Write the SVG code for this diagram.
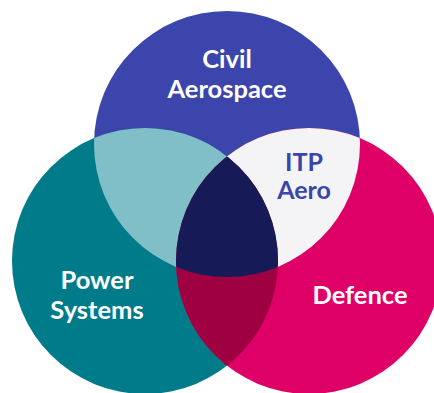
<svg xmlns="http://www.w3.org/2000/svg" width="434" height="393" viewBox="0 0 434 393">
  <style>
    .label { font-family: Lato, "Open Sans", "Liberation Sans", sans-serif; font-weight: 700; font-size: 25.5px; text-anchor: middle; }
    .light { fill: #ffffff; }
    .dark { fill: #3b45ab; font-size: 25px; }
  </style>
  <defs>
    <clipPath id="clip-civil"><circle cx="227" cy="144" r="133"/></clipPath>
    <clipPath id="clip-power"><circle cx="145" cy="261" r="133"/></clipPath>
  </defs>
  <rect width="434" height="393" fill="#ffffff"/>

  <!-- base circles -->
  <g id="civil-aerospace">
    <circle cx="227" cy="144" r="133" fill="#3b45ab"/>
  </g>
  <g id="power-systems">
    <circle cx="145" cy="261" r="133" fill="#007b8a"/>
  </g>
  <g id="defence">
    <circle cx="309" cy="261" r="133" fill="#de0066"/>
  </g>

  <!-- overlaps -->
  <g id="civil-power-overlap" clip-path="url(#clip-civil)">
    <circle cx="145" cy="261" r="133" fill="#80bec8"/>
  </g>
  <g id="itp-aero" clip-path="url(#clip-civil)">
    <circle cx="309" cy="261" r="133" fill="#f4f4f6"/>
  </g>
  <g id="power-defence-overlap" clip-path="url(#clip-power)">
    <circle cx="309" cy="261" r="133" fill="#9e0042"/>
  </g>
  <g id="core-overlap" clip-path="url(#clip-civil)">
    <g clip-path="url(#clip-power)">
      <circle cx="309" cy="261" r="133" fill="#161a57"/>
    </g>
  </g>

  <!-- labels -->
  <g id="labels">
    <text class="label light" x="227" y="68">Civil</text>
    <text class="label light" x="227" y="98">Aerospace</text>
    <text class="label dark" x="304" y="171">ITP</text>
    <text class="label dark" x="304" y="199">Aero</text>
    <text class="label light" x="97" y="289">Power</text>
    <text class="label light" x="97" y="319">Systems</text>
    <text class="label light" x="360" y="304">Defence</text>
  </g>
</svg>
